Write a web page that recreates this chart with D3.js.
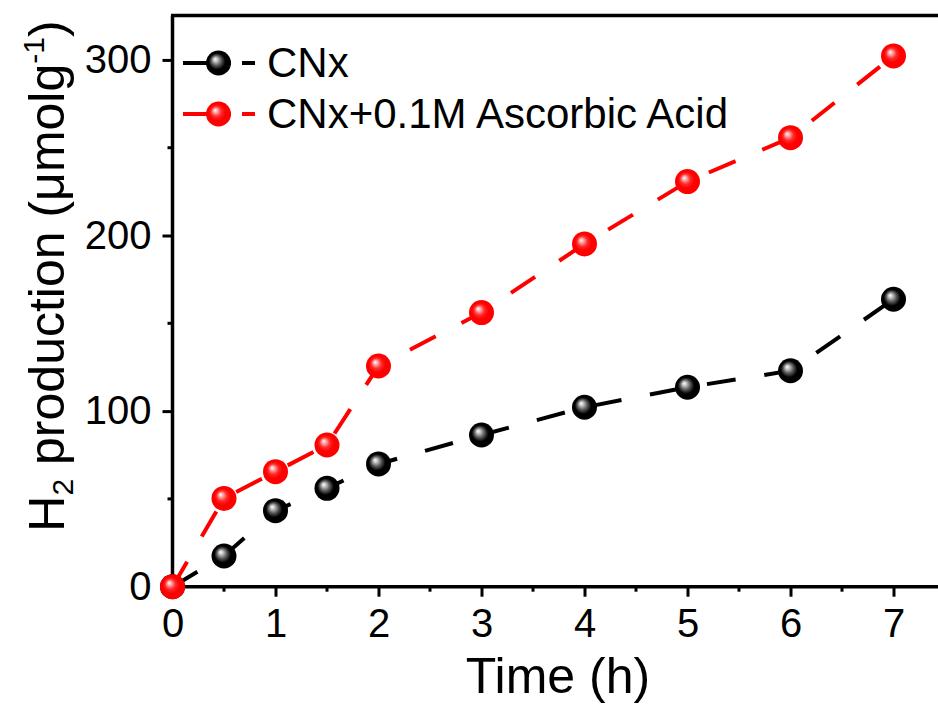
<!DOCTYPE html>
<html>
<head>
<meta charset="utf-8">
<script src="https://cdn.jsdelivr.net/npm/d3@7"></script>
<style>
  html, body { margin: 0; padding: 0; background: #fff; }
  svg { display: block; font-family: "Liberation Sans", Arial, sans-serif; }
</style>
</head>
<body>
<svg id="chart" width="938" height="704"></svg>
<script>
// Hydrogen evolution over time
const times = [0, 0.5, 1, 1.5, 2, 3, 4, 5, 6, 7];
const cnx = [0, 17.5, 43.3, 56.0, 69.9, 86.4, 102.2, 113.6, 123.0, 163.7];
const cnxAscorbic = [0, 50.3, 65.5, 80.7, 125.7, 156.1, 195.2, 230.7, 255.7, 302.3];
const seriesNames = ["CNx", "CNx+0.1M Ascorbic Acid"];
const seriesColors = ["#000000", "#ff0000"];
const xTicks = [0, 1, 2, 3, 4, 5, 6, 7];
const yTicks = [0, 100, 200, 300];

const svg = d3.select("#chart");
const plotLeft = 172.5, plotRight = 945, plotTop = 15.5, plotBottom = 586.7;

const x = d3.scaleLinear().domain([0, 7.5]).range([plotLeft, plotRight]);
const y = d3.scaleLinear().domain([0, 325.3]).range([plotBottom, plotTop]);

// marker gradients (glossy sphere look)
const defs = svg.append("defs");
function sphere(id, hi, mid, base) {
  const g = defs.append("radialGradient").attr("id", id)
    .attr("cx", 0.5).attr("cy", 0.5).attr("r", 0.55)
    .attr("fx", 0.36).attr("fy", 0.34);
  g.append("stop").attr("offset", "0%").attr("stop-color", "#ffffff");
  g.append("stop").attr("offset", "14%").attr("stop-color", hi);
  g.append("stop").attr("offset", "38%").attr("stop-color", mid);
  g.append("stop").attr("offset", "60%").attr("stop-color", base);
  g.append("stop").attr("offset", "100%").attr("stop-color", base);
}
sphere("ballBlack", "#c8c8c8", "#555555", "#000000");
sphere("ballRed", "#ffb0b0", "#ff2a2a", "#ff0000");
const fills = ["url(#ballBlack)", "url(#ballRed)"];

// axes
const xAxis = d3.axisBottom(x).tickValues(xTicks).tickFormat(d3.format("d"))
  .tickSize(10).tickPadding(12);
const yAxis = d3.axisLeft(y).tickValues(yTicks).tickFormat(d3.format("d"))
  .tickSize(10).tickPadding(11);

const gx = svg.append("g").attr("transform", `translate(0,${plotBottom})`).call(xAxis);
const gy = svg.append("g").attr("transform", `translate(${plotLeft},0)`).call(yAxis);
[gx, gy].forEach(g => {
  g.select(".domain").remove();
  g.selectAll(".tick line").attr("stroke", "#000").attr("stroke-width", 3);
  g.selectAll(".tick text").attr("fill", "#000").attr("font-size", 40)
    .attr("font-family", "Liberation Sans, Arial, sans-serif");
});

// minor ticks
const xMinor = d3.range(0.5, 7.5, 1);
const yMinor = [50, 150, 250];
svg.append("g").selectAll("line").data(xMinor).join("line")
  .attr("x1", d => x(d)).attr("x2", d => x(d))
  .attr("y1", plotBottom).attr("y2", plotBottom + 5)
  .attr("stroke", "#000").attr("stroke-width", 3);
svg.append("g").selectAll("line").data(yMinor).join("line")
  .attr("y1", d => y(d)).attr("y2", d => y(d))
  .attr("x1", plotLeft).attr("x2", plotLeft - 5)
  .attr("stroke", "#000").attr("stroke-width", 3);

// frame
svg.append("line").attr("x1", plotLeft).attr("x2", plotLeft).attr("y1", plotTop).attr("y2", plotBottom + 1.5)
  .attr("stroke", "#000").attr("stroke-width", 3.5);
svg.append("line").attr("x1", plotLeft - 1.5).attr("x2", 938).attr("y1", plotBottom).attr("y2", plotBottom)
  .attr("stroke", "#000").attr("stroke-width", 3.5);
svg.append("line").attr("x1", plotLeft - 1.5).attr("x2", 938).attr("y1", plotTop).attr("y2", plotTop)
  .attr("stroke", "#000").attr("stroke-width", 3.5);

// series
const allSeries = [cnx, cnxAscorbic];
const line = d3.line().x(d => x(d.t)).y(d => y(d.v));
allSeries.forEach((vals, i) => {
  const pts = times.map((t, k) => ({ t, v: vals[k] }));
  svg.append("path").datum(pts).attr("d", line)
    .attr("fill", "none").attr("stroke", seriesColors[i])
    .attr("stroke-width", 4).attr("stroke-dasharray", "29,29");
  svg.append("g").selectAll("circle").data(pts).join("circle")
    .attr("cx", d => x(d.t)).attr("cy", d => y(d.v)).attr("r", 12.5)
    .attr("fill", fills[i]);
});

// legend
const legendRows = [63, 114];
seriesNames.forEach((name, i) => {
  const ly = legendRows[i];
  svg.append("line").attr("x1", 183).attr("x2", 255).attr("y1", ly).attr("y2", ly)
    .attr("stroke", seriesColors[i]).attr("stroke-width", 4)
    .attr("stroke-dasharray", "48,11,14");
  svg.append("circle").attr("cx", 218.5).attr("cy", ly).attr("r", 12.5).attr("fill", fills[i]);
  svg.append("text").attr("x", 267).attr("y", ly + 14).attr("font-size", 42)
    .attr("fill", "#000").text(name);
});

// axis titles
svg.append("text").attr("x", (466 + 650) / 2).attr("y", 693).attr("text-anchor", "middle")
  .attr("font-size", 50).attr("fill", "#000").text("Time (h)");

const yt = svg.append("text").attr("transform", "translate(64,276) rotate(-90)")
  .attr("text-anchor", "middle").attr("font-size", 50).attr("fill", "#000");
yt.append("tspan").text("H");
yt.append("tspan").attr("font-size", 30).attr("dy", 9).text("2");
yt.append("tspan").attr("dy", -9).text(" production (μmolg");
yt.append("tspan").attr("font-size", 30).attr("dy", -20).text("-1");
yt.append("tspan").attr("dy", 20).text(")");
</script>
</body>
</html>
